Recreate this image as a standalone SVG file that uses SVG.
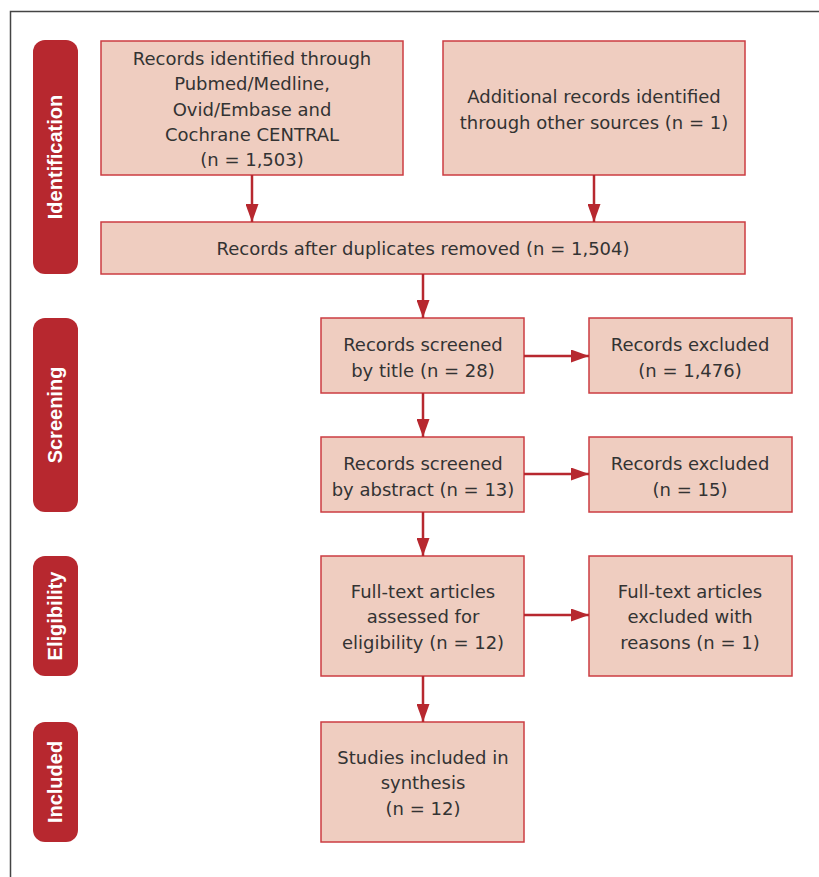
<svg xmlns="http://www.w3.org/2000/svg" width="819" height="877" viewBox="0 0 819 877">
  <style>
    .box { fill: #efcdc0; stroke: #cc3c42; stroke-width: 1.5; }
    .pill { fill: #b7282f; }
    .t { font-family: "DejaVu Sans", "Liberation Sans", sans-serif; font-size: 18px; fill: #333333; text-anchor: middle; }
    .side { font-family: "Liberation Sans", Arial, sans-serif; font-size: 20px; font-weight: bold; fill: #ffffff; text-anchor: middle; }
    .conn { stroke: #b7282f; stroke-width: 2.5; fill: none; marker-end: url(#arrow); }
    .frame { stroke: #444444; stroke-width: 1.5; fill: none; }
  </style>
  <defs>
    <marker id="arrow" markerUnits="userSpaceOnUse" markerWidth="18" markerHeight="13" refX="18" refY="6.5" orient="auto">
      <path d="M0,0 L18,6.5 L0,13 z" fill="#b7282f"/>
    </marker>
  </defs>
  <rect x="0" y="0" width="819" height="877" fill="#ffffff"/>
  <path class="frame" d="M10.5,877 L10.5,11.5 L819,11.5"/>

  <g id="stage-identification">
    <rect class="pill" x="33" y="40" width="45" height="234" rx="12" ry="12"/>
    <text class="side" transform="translate(62,157) rotate(-90)">Identification</text>
  </g>
  <g id="stage-screening">
    <rect class="pill" x="33" y="318" width="45" height="194" rx="12" ry="12"/>
    <text class="side" transform="translate(62,415) rotate(-90)">Screening</text>
  </g>
  <g id="stage-eligibility">
    <rect class="pill" x="33" y="556" width="45" height="120" rx="12" ry="12"/>
    <text class="side" transform="translate(62,616) rotate(-90)">Eligibility</text>
  </g>
  <g id="stage-included">
    <rect class="pill" x="33" y="722" width="45" height="120" rx="12" ry="12"/>
    <text class="side" transform="translate(62,782) rotate(-90)">Included</text>
  </g>

  <g id="records-identified">
    <rect class="box" x="101" y="41" width="302" height="134"/>
    <text class="t" x="252" y="65">Records identified through</text>
    <text class="t" x="252" y="90">Pubmed/Medline,</text>
    <text class="t" x="252" y="116">Ovid/Embase and</text>
    <text class="t" x="252" y="141">Cochrane CENTRAL</text>
    <text class="t" x="252" y="166">(n = 1,503)</text>
  </g>
  <g id="additional-records">
    <rect class="box" x="443" y="41" width="302" height="134"/>
    <text class="t" x="594" y="103">Additional records identified</text>
    <text class="t" x="594" y="129">through other sources (n = 1)</text>
  </g>
  <g id="after-duplicates">
    <rect class="box" x="101" y="222" width="644" height="52"/>
    <text class="t" x="423" y="255">Records after duplicates removed (n = 1,504)</text>
  </g>
  <g id="screened-title">
    <rect class="box" x="321" y="318" width="203" height="75"/>
    <text class="t" x="423" y="351">Records screened</text>
    <text class="t" x="423" y="377">by title (n = 28)</text>
  </g>
  <g id="excluded-title">
    <rect class="box" x="589" y="318" width="203" height="75"/>
    <text class="t" x="690" y="351">Records excluded</text>
    <text class="t" x="690" y="377">(n = 1,476)</text>
  </g>
  <g id="screened-abstract">
    <rect class="box" x="321" y="437" width="203" height="75"/>
    <text class="t" x="423" y="470">Records screened</text>
    <text class="t" x="423" y="496">by abstract (n = 13)</text>
  </g>
  <g id="excluded-abstract">
    <rect class="box" x="589" y="437" width="203" height="75"/>
    <text class="t" x="690" y="470">Records excluded</text>
    <text class="t" x="690" y="496">(n = 15)</text>
  </g>
  <g id="full-text">
    <rect class="box" x="321" y="556" width="203" height="120"/>
    <text class="t" x="423" y="598">Full-text articles</text>
    <text class="t" x="423" y="623">assessed for</text>
    <text class="t" x="423" y="649">eligibility (n = 12)</text>
  </g>
  <g id="full-text-excluded">
    <rect class="box" x="589" y="556" width="203" height="120"/>
    <text class="t" x="690" y="598">Full-text articles</text>
    <text class="t" x="690" y="623">excluded with</text>
    <text class="t" x="690" y="649">reasons (n = 1)</text>
  </g>
  <g id="studies-included">
    <rect class="box" x="321" y="722" width="203" height="120"/>
    <text class="t" x="423" y="764">Studies included in</text>
    <text class="t" x="423" y="789">synthesis</text>
    <text class="t" x="423" y="815">(n = 12)</text>
  </g>

  <g id="connectors">
    <line class="conn" x1="252" y1="175" x2="252" y2="222"/>
    <line class="conn" x1="594" y1="175" x2="594" y2="222"/>
    <line class="conn" x1="423" y1="274" x2="423" y2="318"/>
    <line class="conn" x1="524" y1="356" x2="589" y2="356"/>
    <line class="conn" x1="423" y1="393" x2="423" y2="437"/>
    <line class="conn" x1="524" y1="474" x2="589" y2="474"/>
    <line class="conn" x1="423" y1="512" x2="423" y2="556"/>
    <line class="conn" x1="524" y1="615" x2="589" y2="615"/>
    <line class="conn" x1="423" y1="676" x2="423" y2="722"/>
  </g>
</svg>
